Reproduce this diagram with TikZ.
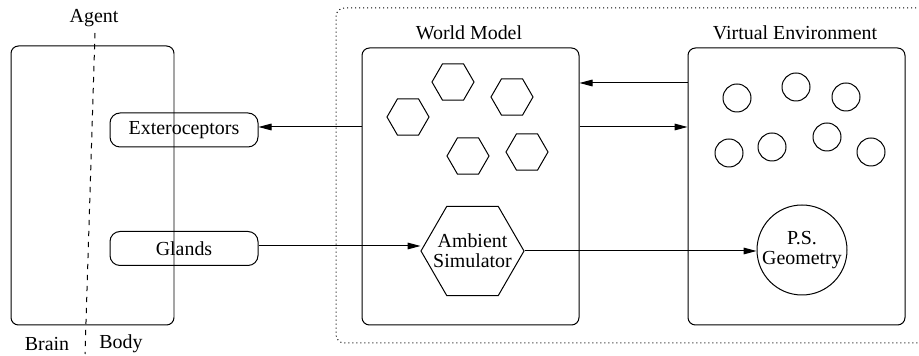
\documentclass[tikz,border=0pt]{standalone}
\usepackage{fontspec}
\setmainfont{Liberation Serif}
\newfontfamily\tnrfont{Liberation Serif}
\usetikzlibrary{arrows.meta,shapes.geometric}
\begin{document}
\begin{tikzpicture}[x={(0.6pt,0)},y={(0,-0.6pt)},
  every node/.style={font=\tnrfont\fontsize{11.95}{13.6}\selectfont},
  ln/.style={line width=0.6pt},
  bigbox/.style={draw,ln,rounded corners=4.5pt,inner sep=0pt},
  smallbox/.style={draw,ln,rounded corners=6pt,inner sep=0pt,minimum width=88.8pt,minimum height=20.4pt},
  hexa/.style={draw,ln,regular polygon,regular polygon sides=6,inner sep=0pt,minimum size=25.2pt},
  circ/.style={draw,ln,circle,inner sep=0pt,minimum size=16.8pt},
  arr/.style={ln,-{Triangle[length=7.8pt,width=4pt]}}]
\useasboundingbox (0,0) rectangle (919,356);
% outer dotted box
\draw[ln,dash pattern=on 0.6pt off 1.8pt,rounded corners=5pt] (960,8) -- (336,8) -- (336,343) -- (960,343);
% agent
\node[bigbox,minimum width=97.8pt,minimum height=167.4pt] (agent) at (92.5,185.5) {};
\node (agentlbl) at (94,18) {Agent};
\coordinate (dtop) at (95,33);
\coordinate (dbot) at (85,354);
\draw[ln,dash pattern=on 3.2pt off 3.4pt] (dtop) -- (dbot);
\node (brain) at (47,344) {Brain};
\node (body) at (121,344) {Body};
\node[smallbox] (ext) at (184,130) {Exteroceptors};
\node[smallbox] (glands) at (184,248.5) {Glands};
% world model
\node[bigbox,minimum width=130.2pt,minimum height=166.2pt] (wm) at (470.5,186.5) {};
\node (wmlbl) at (469,33) {World Model};
\node[hexa] (h1) at (453,82) {};
\node[hexa] (h2) at (512,97) {};
\node[hexa] (h3) at (408,117) {};
\node[hexa] (h4) at (468,156) {};
\node[hexa] (h5) at (527,152) {};
\node[draw,ln,regular polygon,regular polygon sides=6,inner sep=0pt,minimum size=61.8pt] (amb) at (472.5,251) {};
\node[align=center,inner sep=0pt] (ambtxt) at (amb) {Ambient\\[-1.5pt]Simulator};
% virtual environment
\node[bigbox,minimum width=130.2pt,minimum height=166.2pt] (ve) at (796.5,186.5) {};
\node (velbl) at (795,33) {Virtual Environment};
\node[circ] (c1) at (737,98) {};
\node[circ] (c2) at (796,87) {};
\node[circ] (c3) at (846,97) {};
\node[circ] (c4) at (729,153) {};
\node[circ] (c5) at (772,147) {};
\node[circ] (c6) at (827,137) {};
\node[circ] (c7) at (871,152) {};
\node[draw,ln,circle,inner sep=0pt,minimum size=54pt] (ps) at (802,250) {};
\node[align=center,inner sep=0pt] (pstxt) at (ps) {P.S.\\[-1.5pt]Geometry};
% connectors
\draw[arr] (wm.west |- 0,127) -- (ext.east |- 0,127);
\draw[arr] (wm.east |- 0,127) -- (ve.west |- 0,127);
\draw[arr] (ve.west |- 0,83) -- (wm.east |- 0,83);
\draw[arr] (glands.east |- 0,246) -- (420.5,246);
\draw[arr] (amb.east) -- (ps.west |- amb.east);
\end{tikzpicture}
\end{document}
